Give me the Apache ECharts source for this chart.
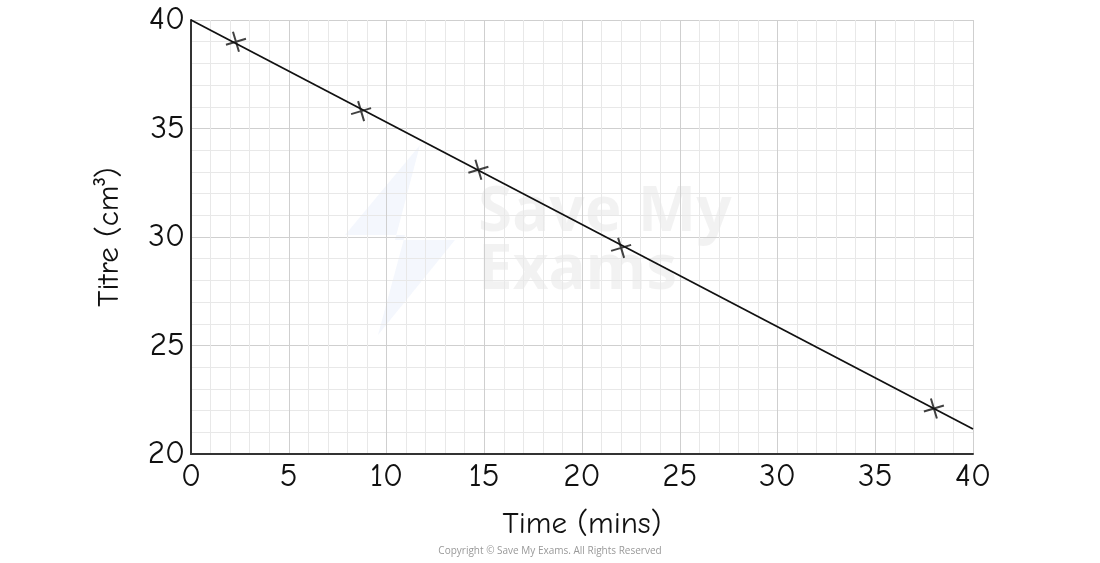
<!DOCTYPE html>
<html>
<head>
<meta charset="utf-8">
<script src="https://cdn.jsdelivr.net/npm/echarts@6/dist/echarts.min.js"></script>
<style>
  html, body { margin: 0; padding: 0; background: #fff; }
  #chart { width: 1100px; height: 563px; }
</style>
</head>
<body>
<div id="chart"></div>
<script>
// measured points (time in mins, titre in cm3)
var timeMins = [2.3, 8.7, 14.7, 22.0, 38.0];
var titre = [39.0, 35.8, 33.1, 29.5, 22.1];

// best fit line ends
var fitTime = [0, 40];
var fitTitre = [40, 21.15];

var fontFamily = '"Comic Neue", "Comic Sans MS", "DejaVu Sans", sans-serif';

var chartDom = document.getElementById('chart');
var myChart = echarts.init(chartDom);
var option;

option = {
    animation: false,
    grid: { left: 191, right: 127, top: 20, bottom: 109 },
    graphic: [
        {
            type: 'polygon',
            silent: true,
            z: 0,
            shape: { points: [[420, 145], [345, 235], [405, 235], [378, 335], [455, 240], [395, 240]] },
            style: { fill: 'rgba(120,150,230,0.08)' }
        },
        {
            type: 'text',
            silent: true,
            z: 0,
            left: 478,
            top: 182,
            style: {
                text: 'Save My\nExams',
                fontSize: 62,
                lineHeight: 58,
                fontWeight: 'bold',
                fontFamily: 'Noto Sans, sans-serif',
                fill: 'rgba(0,0,0,0.05)'
            }
        },
        {
            type: 'text',
            left: 'center',
            top: 546,
            style: {
                text: 'Copyright \u00a9 Save My Exams. All Rights Reserved',
                fontSize: 10,
                fontFamily: 'Open Sans, sans-serif',
                fill: '#999'
            }
        }
    ],
    xAxis: {
        type: 'value',
        min: 0,
        max: 40,
        interval: 5,
        name: 'Time (mins)',
        nameLocation: 'middle',
        nameGap: 55,
        nameTextStyle: { fontSize: 31, color: '#111', fontFamily: fontFamily },
        axisLine: { show: true, onZero: false, lineStyle: { color: '#333', width: 2 } },
        axisTick: { show: false },
        axisLabel: { fontSize: 33, color: '#111', margin: 6, fontFamily: fontFamily },
        splitLine: { show: true, lineStyle: { color: '#cfcfcf', width: 1 } },
        minorTick: { show: false, splitNumber: 5 },
        minorSplitLine: { show: true, lineStyle: { color: '#e8e8e8', width: 1 } }
    },
    yAxis: {
        type: 'value',
        min: 20,
        max: 40,
        interval: 5,
        name: 'Titre (cm\u00b3)',
        nameLocation: 'middle',
        nameGap: 66,
        nameTextStyle: { fontSize: 31, color: '#111', fontFamily: fontFamily },
        axisLine: { show: true, lineStyle: { color: '#333', width: 2 } },
        axisTick: { show: false },
        axisLabel: { fontSize: 33, color: '#111', margin: 6, fontFamily: fontFamily },
        splitLine: { show: true, lineStyle: { color: '#cfcfcf', width: 1 } },
        minorTick: { show: false, splitNumber: 5 },
        minorSplitLine: { show: true, lineStyle: { color: '#e8e8e8', width: 1 } }
    },
    series: [
        {
            name: 'fit',
            type: 'line',
            data: fitTime.map(function (t, i) { return [t, fitTitre[i]]; }),
            showSymbol: false,
            lineStyle: { color: '#111', width: 1.8 },
            z: 3
        },
        {
            name: 'titre',
            type: 'scatter',
            data: timeMins.map(function (t, i) { return [t, titre[i]]; }),
            symbol: 'path://M0,13L20,7M7,0L13,20',
            symbolSize: 20,
            itemStyle: { color: 'none', borderColor: '#111', borderWidth: 2 },
            z: 4
        }
    ]
};

option && myChart.setOption(option);
</script>
</body>
</html>
